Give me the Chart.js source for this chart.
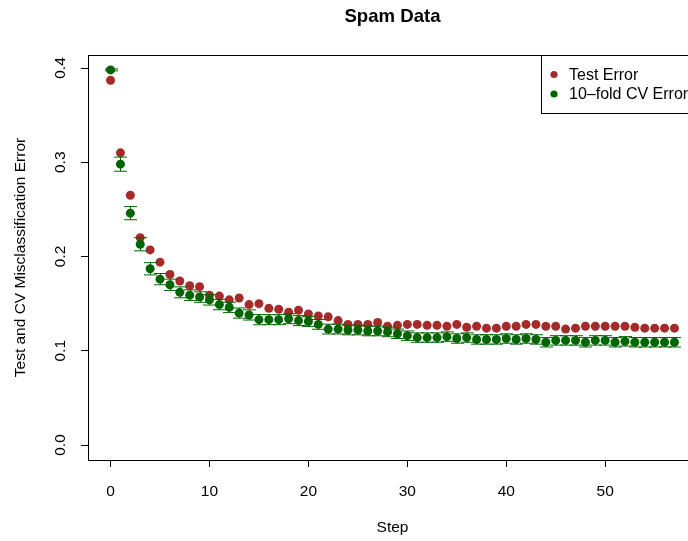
<!DOCTYPE html>
<html>
<head>
<meta charset="utf-8">
<script src="https://cdn.jsdelivr.net/npm/chart.js@4/dist/chart.umd.min.js"></script>
<style>
  html, body { margin: 0; padding: 0; background: #fff; overflow: hidden; }
  #wrap { width: 720px; height: 541px; position: relative; }
</style>
</head>
<body>
<div id="wrap"><canvas id="chartSpam"></canvas></div>
<script>
// values
const steps = [];
for (let i = 0; i <= 57; i++) steps.push(i);

const testError = [
  0.387, 0.310, 0.265, 0.220, 0.207, 0.194, 0.181, 0.174, 0.169, 0.168,
  0.159, 0.158, 0.154, 0.156, 0.149, 0.150, 0.145, 0.144, 0.141, 0.143,
  0.139, 0.137, 0.136, 0.132, 0.128, 0.128, 0.128, 0.130, 0.126, 0.127,
  0.128, 0.128, 0.127, 0.127, 0.126, 0.128, 0.125, 0.126, 0.124, 0.124,
  0.126, 0.126, 0.128, 0.128, 0.126, 0.126, 0.123, 0.124, 0.126, 0.126,
  0.126, 0.126, 0.126, 0.125, 0.124, 0.124, 0.124, 0.124
];

const cvError = [
  0.398, 0.298, 0.246, 0.213, 0.187, 0.176, 0.170, 0.162, 0.159, 0.157,
  0.154, 0.149, 0.146, 0.140, 0.138, 0.133, 0.133, 0.133, 0.134, 0.132,
  0.131, 0.128, 0.123, 0.123, 0.122, 0.122, 0.121, 0.121, 0.120, 0.118,
  0.116, 0.114, 0.114, 0.114, 0.115, 0.113, 0.114, 0.112, 0.112, 0.112,
  0.113, 0.112, 0.113, 0.112, 0.109, 0.111, 0.111, 0.111, 0.109, 0.111,
  0.111, 0.109, 0.110, 0.109, 0.109, 0.109, 0.109, 0.109
];

const cvSE = [
  0.001, 0.0075, 0.007, 0.007, 0.0065, 0.006, 0.006, 0.0058, 0.0056, 0.0056,
  0.0055, 0.0055, 0.0055, 0.0054, 0.0054, 0.0054, 0.0053, 0.0053, 0.0053, 0.0053,
  0.0052, 0.0052, 0.0052, 0.0052, 0.0051, 0.0051, 0.0051, 0.0051, 0.0051, 0.005,
  0.005, 0.005, 0.005, 0.005, 0.005, 0.005, 0.005, 0.005, 0.005, 0.005,
  0.005, 0.005, 0.005, 0.005, 0.005, 0.005, 0.005, 0.005, 0.005, 0.005,
  0.005, 0.005, 0.005, 0.005, 0.005, 0.005, 0.005, 0.005
];

const xTicks = [0, 10, 20, 30, 40, 50];
const yTicks = [0, 0.1, 0.2, 0.3, 0.4];
const yTickLabels = ['0.0', '0.1', '0.2', '0.3', '0.4'];

const RED = '#A52A2A';
const GREEN = '#006400';
const FONT = '"Liberation Sans", Arial, Helvetica, sans-serif';

function toPoints(ys) {
  return steps.map(function (s, i) { return { x: s, y: ys[i] }; });
}

// R style: box, rotated y tick labels, legend, error bars
const rStyle = {
  id: 'rStyle',
  afterDatasetsDraw: function (chart) {
    const ctx = chart.ctx;
    const xs = chart.scales.x, ys = chart.scales.y;
    ctx.save();
    ctx.strokeStyle = GREEN;
    ctx.lineWidth = 1;
    for (let i = 0; i < steps.length; i++) {
      const px = Math.round(xs.getPixelForValue(steps[i])) + 0.5;
      const top = ys.getPixelForValue(cvError[i] + cvSE[i]);
      const bot = ys.getPixelForValue(cvError[i] - cvSE[i]);
      ctx.beginPath();
      ctx.moveTo(px, top); ctx.lineTo(px, bot);
      ctx.moveTo(px - 6.5, top); ctx.lineTo(px + 6.5, top);
      ctx.moveTo(px - 6.5, bot); ctx.lineTo(px + 6.5, bot);
      ctx.stroke();
    }
    ctx.restore();
  },
  afterDraw: function (chart) {
    const ctx = chart.ctx;
    const a = chart.chartArea;
    const ys = chart.scales.y;
    ctx.save();
    ctx.strokeStyle = '#000';
    ctx.lineWidth = 1;
    ctx.strokeRect(Math.round(a.left) + 0.5, Math.round(a.top) + 0.5,
      Math.round(a.right - a.left), Math.round(a.bottom - a.top));

    // y tick labels, turned like R does
    ctx.fillStyle = '#000';
    ctx.font = '15.5px ' + FONT;
    ctx.textAlign = 'center';
    ctx.textBaseline = 'middle';
    yTicks.forEach(function (v, i) {
      ctx.save();
      ctx.translate(61, ys.getPixelForValue(v));
      ctx.rotate(-Math.PI / 2);
      ctx.fillText(yTickLabels[i], 0, 0);
      ctx.restore();
    });

    // legend top right
    const lx = a.right - 156, ly = a.top;
    ctx.fillStyle = '#fff';
    ctx.fillRect(lx, ly, 156, 58);
    ctx.strokeRect(Math.round(lx) + 0.5, Math.round(ly) + 0.5, 156, 58);
    ctx.font = '16px ' + FONT;
    const items = [['Test Error', RED], ['10\u2013fold CV Error', GREEN]];
    items.forEach(function (it, i) {
      const cy = ly + 19.5 + i * 19.5;
      ctx.fillStyle = it[1];
      ctx.beginPath();
      ctx.arc(lx + 13, cy, 3.6, 0, Math.PI * 2);
      ctx.fill();
      ctx.fillStyle = '#000';
      ctx.textAlign = 'left';
      ctx.fillText(it[0], lx + 28, cy + 1);
    });
    ctx.restore();
  }
};

const ctxSpam = document.getElementById('chartSpam');
new Chart(ctxSpam, {
  type: 'scatter',
  data: {
    datasets: [
      {
        label: '10-fold CV Error',
        data: toPoints(cvError),
        backgroundColor: GREEN,
        borderWidth: 0,
        pointRadius: 4.5,
        order: 1
      },
      {
        label: 'Test Error',
        data: toPoints(testError),
        backgroundColor: RED,
        borderWidth: 0,
        pointRadius: 4.5,
        order: 2
      }
    ]
  },
  options: {
    responsive: true,
    maintainAspectRatio: false,
    animation: false,
    events: [],
    layout: { padding: { left: 0, right: 23, top: 0, bottom: 0 } },
    plugins: {
      legend: { display: false },
      tooltip: { enabled: false },
      title: {
        display: true,
        text: 'Spam Data',
        fullSize: false,
        color: '#000',
        font: { family: FONT, size: 18.6, weight: 'bold' },
        padding: { top: 6, bottom: 26.7 }
      }
    },
    scales: {
      x: {
        type: 'linear',
        min: -2.28,
        max: 59.28,
        afterBuildTicks: function (scale) {
          scale.ticks = xTicks.map(function (v) { return { value: v }; });
        },
        afterFit: function (scale) { scale.height = 81; },
        border: { display: false },
        grid: { drawOnChartArea: false, color: '#000', tickLength: 7, tickColor: '#000' },
        ticks: { color: '#000', padding: 15, maxRotation: 0, font: { family: FONT, size: 15.5 } },
        title: {
          display: true,
          text: 'Step',
          color: '#000',
          font: { family: FONT, size: 15.5 },
          padding: { top: 0, bottom: 3.7 }
        }
      },
      y: {
        type: 'linear',
        min: -0.0159,
        max: 0.4138,
        afterBuildTicks: function (scale) {
          scale.ticks = yTicks.map(function (v) { return { value: v }; });
        },
        afterFit: function (scale) { scale.width = 88; },
        border: { display: false },
        grid: { drawOnChartArea: false, color: '#000', tickLength: 7, tickColor: '#000' },
        ticks: { display: false },
        title: {
          display: true,
          text: 'Test and CV Misclassification Error',
          color: '#000',
          font: { family: FONT, size: 15.5 },
          padding: { top: 11.7, bottom: 0 }
        }
      }
    }
  },
  plugins: [rStyle]
});
</script>
</body>
</html>
